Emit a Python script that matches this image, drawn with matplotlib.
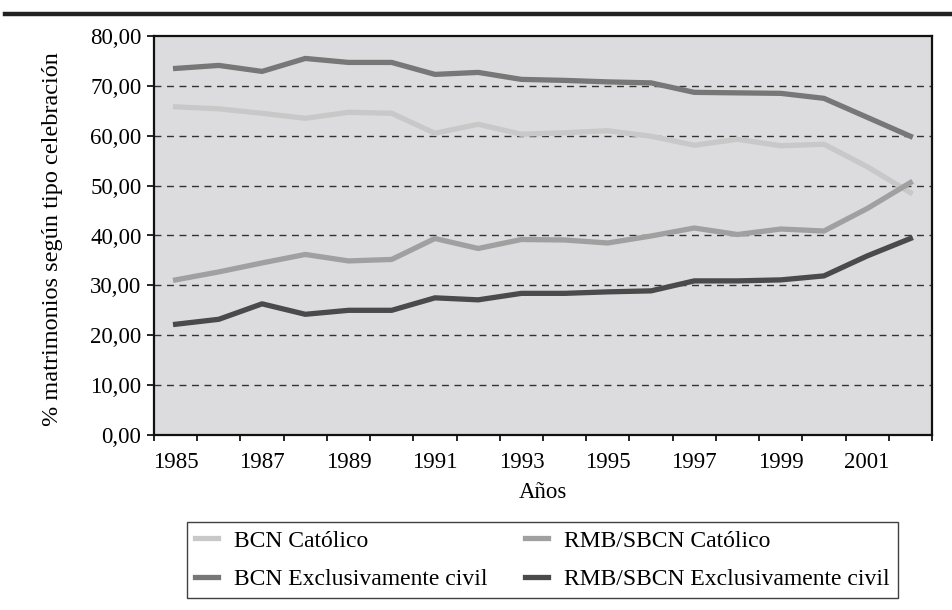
import matplotlib
matplotlib.use('Agg')
import matplotlib.pyplot as plt
import numpy as np

plt.rcParams['font.family'] = ['Liberation Serif', 'DejaVu Serif']

years = list(range(1985, 2003))
bcn_catolico = [65.8, 65.4, 64.5, 63.5, 64.7, 64.5, 60.5, 62.3, 60.3, 60.6,
                61.0, 59.9, 58.1, 59.3, 58.0, 58.3, 53.8, 48.6]
rmb_catolico = [31.1, 32.7, 34.5, 36.2, 34.9, 35.2, 39.4, 37.4, 39.2, 39.1,
                38.5, 39.9, 41.5, 40.2, 41.3, 40.9, 45.4, 50.6]
bcn_civil = [73.5, 74.1, 72.9, 75.5, 74.7, 74.7, 72.3, 72.7, 71.3, 71.1,
             70.8, 70.6, 68.7, 68.6, 68.5, 67.5, 63.7, 59.9]
rmb_civil = [22.2, 23.2, 26.3, 24.2, 25.0, 25.0, 27.5, 27.1, 28.4, 28.4,
             28.7, 28.9, 30.9, 30.9, 31.1, 31.9, 35.9, 39.4]

series = [
    ('BCN Católico', bcn_catolico, '#c8c8c8'),
    ('RMB/SBCN Católico', rmb_catolico, '#a0a0a0'),
    ('BCN Exclusivamente civil', bcn_civil, '#777777'),
    ('RMB/SBCN Exclusivamente civil', rmb_civil, '#4a4a4a'),
]

fig = plt.figure(figsize=(9.53, 6.10), dpi=100)
ax = fig.add_axes([154/953, 1-435/610, (932-154)/953, (435-36)/610])
ax.set_facecolor('#dcdcde')

# rule at top of the figure
fig.add_artist(plt.Line2D([5/953, 1.0], [1-14/610, 1-14/610], color='#222222', lw=3.2))

for y in range(10, 80, 10):
    ax.axhline(y, color='#333333', lw=1.0, ls=(0, (5, 4)), zorder=1)

lines = {}
for name, vals, col in series:
    h, = ax.plot(years, vals, color=col, lw=3.8, label=name, zorder=3)
    lines[name] = h

ax.set_xlim(1984.5, 2002.5)
ax.set_ylim(0, 80)
ax.set_yticks(range(0, 81, 10))
ax.set_yticklabels(['%d,00' % v for v in range(0, 81, 10)])
ax.set_xticks(range(1985, 2002, 2))
ax.set_xticks(np.arange(1984.5, 2003, 1.0), minor=True)
ax.tick_params(axis='x', which='major', length=0, pad=12, labelsize=16.5)
ax.tick_params(axis='x', which='minor', length=4.5, width=1.2, direction='out')
ax.tick_params(axis='y', length=5, width=1.2, direction='out', labelsize=16.5, pad=4)

for s in ax.spines.values():
    s.set_color('#111111')
    s.set_linewidth(1.6)

ax.set_xlabel('Años', fontsize=16.5)
ax.xaxis.set_label_coords(0.5, -0.118)
ax.set_ylabel('% matrimonios según tipo celebración', fontsize=17.5)
ax.yaxis.set_label_coords(-0.117, 0.49)

# legend fills column-wise, so order the handles to give two rows as in the original
order = ['BCN Católico', 'BCN Exclusivamente civil',
         'RMB/SBCN Católico', 'RMB/SBCN Exclusivamente civil']
leg = fig.legend(handles=[lines[n] for n in order], loc='center', ncol=2,
                 bbox_to_anchor=(542.5/953, 1-560/610), fontsize=17,
                 frameon=True, fancybox=False, edgecolor='#111111',
                 handlelength=0.95, handletextpad=0.7, columnspacing=1.6,
                 labelspacing=0.7, borderpad=0.35, borderaxespad=0)
leg.get_frame().set_linewidth(1.0)

fig.savefig('out.png', dpi=100)
